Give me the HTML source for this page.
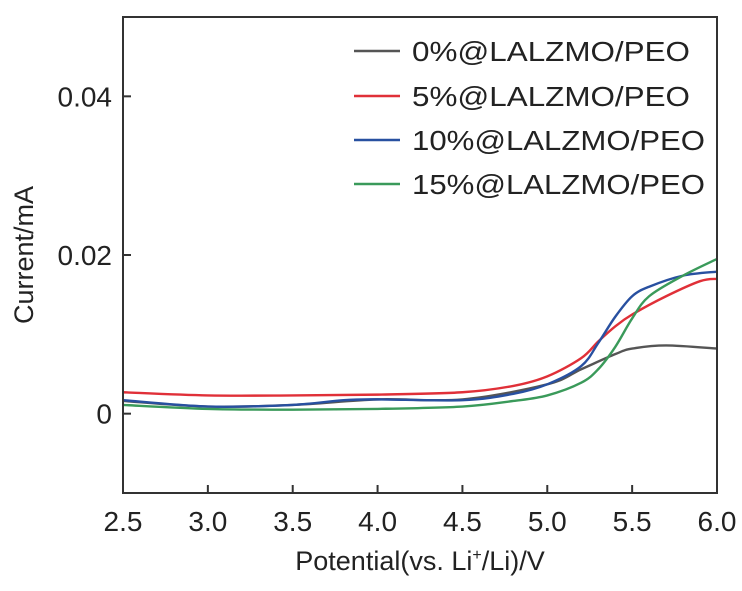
<!DOCTYPE html>
<html><head><meta charset="utf-8"><style>
body{margin:0;background:#fff}
svg{display:block;font-family:"Liberation Sans",Arial,sans-serif}
</style></head><body>
<svg id="chart" width="742" height="591" viewBox="0 0 742 591"></svg>
<script>
const xTicks=[2.5,3.0,3.5,4.0,4.5,5.0,5.5,6.0];
const xTickLabels=["2.5","3.0","3.5","4.0","4.5","5.0","5.5","6.0"];
const yTicks=[0,0.02,0.04];
const yTickLabels=["0","0.02","0.04"];
const seriesNames=["0%@LALZMO/PEO","5%@LALZMO/PEO","10%@LALZMO/PEO","15%@LALZMO/PEO"];
const seriesColors=["#555555","#e03038","#2850a0","#3a9a5a"];
const x0=[2.5,3.0,3.5,4.0,4.5,5.0,5.2,5.4,5.5,5.7,6.0];
const y0=[0.0016,0.0009,0.0011,0.0018,0.0018,0.0037,0.0056,0.0075,0.0082,0.0086,0.0082];
const x5=[2.5,3.0,3.5,4.0,4.5,4.8,5.0,5.2,5.3,5.4,5.5,5.7,5.9,6.0];
const y5=[0.0027,0.0023,0.0023,0.0024,0.0027,0.0035,0.0047,0.007,0.0091,0.011,0.0125,0.0148,0.0167,0.017];
const x10=[2.5,3.0,3.5,3.8,4.0,4.5,4.8,5.0,5.2,5.3,5.4,5.5,5.6,5.8,6.0];
const y10=[0.0017,0.0009,0.0011,0.0017,0.0018,0.0017,0.0025,0.0037,0.006,0.0089,0.0122,0.0148,0.016,0.0174,0.0179];
const x15=[2.5,3.0,3.5,4.0,4.5,4.8,5.0,5.2,5.3,5.4,5.5,5.6,5.8,6.0];
const y15=[0.0011,0.0006,0.0005,0.0006,0.0009,0.0016,0.0023,0.0039,0.0056,0.0084,0.012,0.0148,0.0174,0.0195];

const NS="http://www.w3.org/2000/svg";
const svg=document.getElementById('chart');
const L=123,R=717,T=17,B=493;
const sx=v=>L+(v-2.5)/(6.0-2.5)*(R-L);
const sy=v=>B-(v-(-0.01))/(0.05-(-0.01))*(B-T);
function mk(tag,a,p){const e=document.createElementNS(NS,tag);for(const k in a)e.setAttribute(k,a[k]);(p||svg).appendChild(e);return e;}

const xs=[x0,x5,x10,x15],ys=[y0,y5,y10,y15];
for(let s=0;s<4;s++){
  const pts=xs[s].map((x,i)=>[sx(x),sy(ys[s][i])]);
  let d="M"+pts[0][0]+","+pts[0][1];
  for(let i=0;i<pts.length-1;i++){
    const p0=pts[Math.max(i-1,0)],p1=pts[i],p2=pts[i+1],p3=pts[Math.min(i+2,pts.length-1)];
    d+=" C"+(p1[0]+(p2[0]-p0[0])/6)+","+(p1[1]+(p2[1]-p0[1])/6)+" "+(p2[0]-(p3[0]-p1[0])/6)+","+(p2[1]-(p3[1]-p1[1])/6)+" "+p2[0]+","+p2[1];
  }
  const path=mk('path',{d:d,fill:'none',stroke:seriesColors[s],'stroke-width':2.4});
  
  
}
const frame=mk('rect',{x:L,y:T,width:R-L,height:B-T,fill:'none',stroke:'#333','stroke-width':2});


xTicks.forEach((v,i)=>{
  const t=mk('line',{x1:sx(v),x2:sx(v),y1:B,y2:B-8,stroke:'#333','stroke-width':2});
  
  
  const lb=mk('text',{x:sx(v),y:531,'font-size':28,'text-anchor':'middle',fill:'#222'});
  lb.textContent=xTickLabels[i];
  
  
});
yTicks.forEach((v,i)=>{
  const t=mk('line',{x1:L,x2:L+8,y1:sy(v),y2:sy(v),stroke:'#333','stroke-width':2});
  
  
  const lb=mk('text',{x:112,y:sy(v)+10,'font-size':28,'text-anchor':'end',fill:'#222'});
  lb.textContent=yTickLabels[i];
  
  
});
const xt=mk('text',{x:420,y:570,'font-size':27,'text-anchor':'middle',fill:'#222'});
xt.innerHTML='Potential(vs. Li<tspan font-size="16" dy="-10">+</tspan><tspan dy="10">/Li)/V</tspan>';


const yt=mk('text',{x:0,y:0,'font-size':27,'text-anchor':'middle',fill:'#222',transform:'translate(33,255) rotate(-90)'});
yt.textContent='Current/mA';


const legY=[51,96,140,184];
seriesNames.forEach((n,i)=>{
  const g=mk('g',{});
  
  
  mk('line',{x1:354,x2:400,y1:legY[i],y2:legY[i],stroke:seriesColors[i],'stroke-width':2.5},g);
  const tx=mk('text',{x:412,y:legY[i]+10,'font-size':28,fill:'#222',textLength:i<2?278:293,lengthAdjust:'spacingAndGlyphs'},g);
  tx.textContent=n;
});
</script>
</body></html>
